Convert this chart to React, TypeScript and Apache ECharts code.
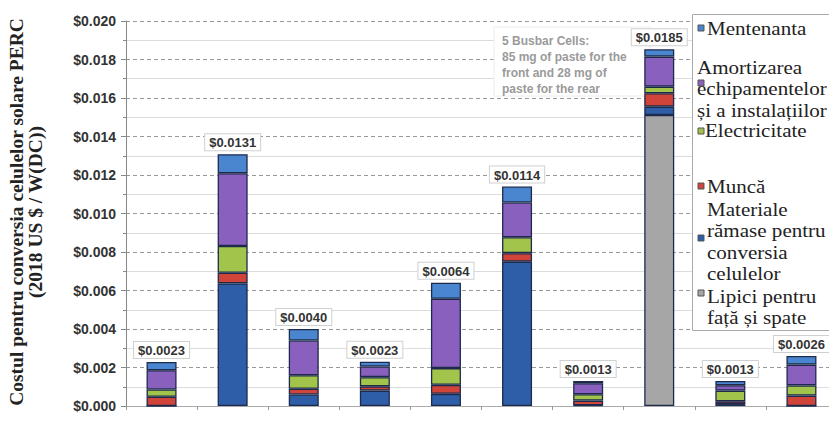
import React, { useEffect, useRef } from "react";
import * as echarts from "echarts";

const categories = ["1", "2", "3", "4", "5", "6", "7", "8", "9", "10"];
const adhesive = [null, null, null, null, null, null, null, 0.01512, null, null];
const materials = [0, 0.00637, 0.0006, 0.0008, 0.00063, 0.0075, 0.00003, 0.00043, 0.0001, 0];
const labor = [0.00048, 0.00055, 0.0003, 0.00022, 0.00047, 0.00044, 0.00025, 0.0007, 0.00015, 0.00054];
const electricity = [0.00038, 0.00139, 0.0007, 0.00048, 0.00087, 0.00083, 0.00033, 0.00034, 0.00055, 0.00053];
const amortization = [0.001, 0.00378, 0.0018, 0.00055, 0.0036, 0.0018, 0.00057, 0.00156, 0.00028, 0.00108];
const maintenance = [0.00043, 0.00099, 0.0006, 0.00025, 0.00083, 0.00083, 0.00012, 0.00038, 0.00022, 0.00045];
const totals = [0.0023, 0.0131, 0.004, 0.0023, 0.0064, 0.0114, 0.0013, 0.0185, 0.0013, 0.0026];

const seriesNames = [
  "Lipici pentru față și spate",
  "Materiale rămase pentru conversia celulelor",
  "Muncă",
  "Electricitate",
  "Amortizarea echipamentelor și a instalațiilor",
  "Mentenanta",
];
const colors = ["#a6a6a6", "#2f5ea8", "#d0443a", "#a3c44a", "#8a60bf", "#4a86cf"];

const yTitle = "Costul pentru conversia celulelor solare PERC\n(2018 US $ / W(DC))";
const annotation = "5 Busbar Cells:\n85 mg of paste for the\nfront and 28 mg of\npaste for the rear";

const NARROW = "'Liberation Sans Narrow', 'Arial Narrow', Arial, sans-serif";
const SERIF = "'Liberation Serif', 'Times New Roman', serif";

export default function App() {
  const ref = useRef<HTMLDivElement>(null);
  useEffect(() => {
    const chart = echarts.init(ref.current!, null, { renderer: "svg" });
    const dataSets = [adhesive, materials, labor, electricity, amortization, maintenance];
    const series: any[] = dataSets.map((d, i) => ({
      name: seriesNames[i],
      type: "bar",
      stack: "cost",
      barWidth: 30,
      data: d,
      itemStyle: { color: colors[i], borderColor: "#1d2a4c", borderWidth: 1.3 },
      label:
        i === 5
          ? {
              show: true,
              position: "top",
              distance: 4,
              formatter: (p: any) => "$" + totals[p.dataIndex].toFixed(4),
              fontFamily: NARROW,
              fontWeight: "bold",
              fontSize: 13,
              color: "#333",
              backgroundColor: "#fff",
              borderColor: "#d0d0d0",
              borderWidth: 1,
              padding: [2, 4, 1, 4],
            }
          : { show: false },
    }));

    const LH = 21.5;
    const legendItems = [
      { idx: 5, my: 28, lines: ["Mentenanta"], tx: 707, ty: 29 },
      { idx: 4, my: 83, lines: ["Amortizarea", "echipamentelor", "și a instalațiilor"], tx: 697, ty: 68 },
      { idx: 3, my: 131, lines: ["Electricitate"], tx: 705, ty: 131 },
      { idx: 2, my: 186, lines: ["Muncă"], tx: 707, ty: 187 },
      { idx: 1, my: 238, lines: ["Materiale", "rămase pentru", "conversia", "celulelor"], tx: 707, ty: 210 },
      { idx: 0, my: 293, lines: ["Lipici pentru", "față și spate"], tx: 707, ty: 297 },
    ];
    const legendGraphics: any[] = [
      {
        type: "rect",
        shape: { x: 692.5, y: 14.5, width: 150, height: 316 },
        style: { fill: "#fff", stroke: "#aaa", lineWidth: 1 },
        z: 10,
      },
    ];
    legendItems.forEach((it) => {
      legendGraphics.push({
        type: "rect",
        shape: { x: 698, y: it.my - 3, width: 6, height: 6 },
        style: { fill: colors[it.idx], stroke: "#555", lineWidth: 1 },
        z: 12,
      });
      legendGraphics.push({
        type: "text",
        x: it.tx,
        y: it.ty - LH / 2,
        scaleX: 1.17,
        z: 11,
        style: {
          text: it.lines.join("\n"),
          fontFamily: SERIF,
          fontSize: 18,
          lineHeight: LH,
          fill: "#222",
          verticalAlign: "top",
          align: "left",
        },
      });
    });

    chart.setOption({
      animation: false,
      grid: { left: 126, right: -3, top: 21, bottom: 22, containLabel: false },
      xAxis: {
        type: "category",
        data: categories,
        axisLine: { show: true, lineStyle: { color: "#aaa" } },
        axisTick: { show: true, length: 4, lineStyle: { color: "#999" } },
        axisLabel: { show: false },
      },
      yAxis: {
        type: "value",
        min: 0,
        max: 0.02,
        interval: 0.002,
        axisLine: { show: true, lineStyle: { color: "#888" } },
        axisTick: { show: true, length: 5, lineStyle: { color: "#888" } },
        minorTick: { show: true, splitNumber: 2, length: 3, lineStyle: { color: "#888" } },
        splitLine: { show: true, lineStyle: { color: "#999", type: [4, 3], width: 1 } },
        minorSplitLine: { show: true, lineStyle: { color: "#dcdcdc", width: 1 } },
        axisLabel: {
          formatter: (v: number) => "$" + v.toFixed(3),
          fontFamily: NARROW,
          fontWeight: "bold",
          fontSize: 14,
          color: "#333",
          margin: 10,
        },
      },
      series,
      graphic: [
        {
          type: "text",
          x: 26,
          y: 212,
          rotation: Math.PI / 2,
          style: {
            text: yTitle,
            fontFamily: SERIF,
            fontWeight: "bold",
            fontSize: 19.5,
            lineHeight: 19,
            fill: "#222",
            align: "center",
            verticalAlign: "middle",
          },
        },
        {
          type: "rect",
          z: 1,
          shape: { x: 494, y: 27, width: 156, height: 69 },
          style: { fill: "#fff", stroke: "#ececec", lineWidth: 1 },
        },
        {
          type: "text",
          z: 1,
          x: 502,
          y: 33,
          style: {
            text: annotation,
            fontFamily: "Arial, 'Liberation Sans', sans-serif",
            fontWeight: "bold",
            fontSize: 12,
            lineHeight: 16,
            fill: "#9a9a9a",
            align: "left",
            verticalAlign: "top",
          },
        },
        ...legendGraphics,
      ],
    });
    return () => chart.dispose();
  }, []);
  return <div ref={ref} style={{ width: 837, height: 428, margin: -8 }} />;
}
